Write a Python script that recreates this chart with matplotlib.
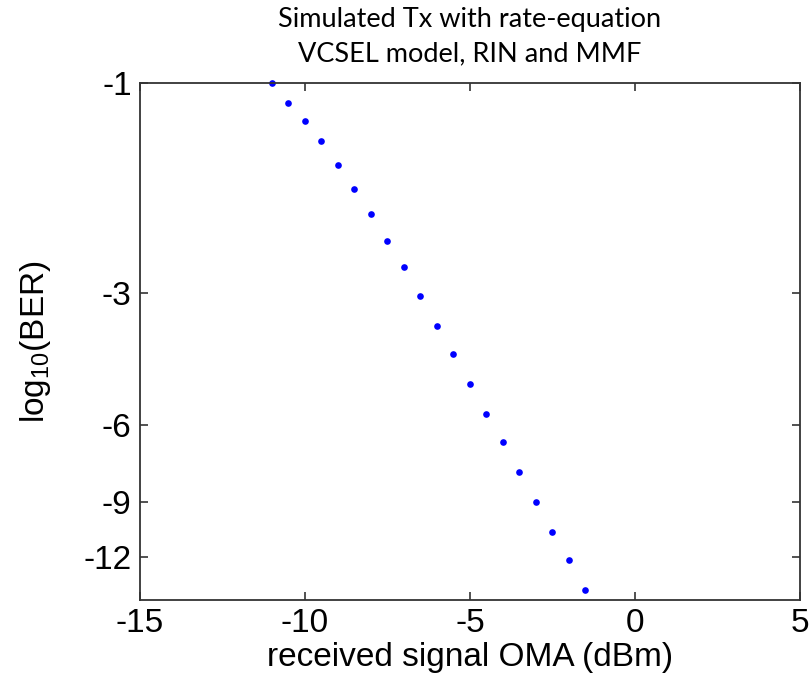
import numpy as np
import matplotlib
matplotlib.use("Agg")
import matplotlib.pyplot as plt

# Data
oma_dbm = [-11.0, -10.5, -10.0, -9.5, -9.0, -8.5, -8.0, -7.5, -7.0, -6.5,
           -6.0, -5.5, -5.0, -4.5, -4.0, -3.5, -3.0, -2.5, -2.0, -1.5]
log_ber = [-1.00, -1.11, -1.22, -1.36, -1.54, -1.74, -1.99, -2.29, -2.63, -3.06,
           -3.57, -4.13, -4.84, -5.66, -6.56, -7.68, -8.97, -10.48, -12.16, -14.21]
x_ticks = [-15, -10, -5, 0, 5]
y_ticks = [-1, -3, -6, -9, -12]
y_ticklabels = ["-1", "-3", "-6", "-9", "-12"]

fig = plt.figure(figsize=(8.12, 6.89), dpi=100)
ax = fig.add_axes([140/812, 1 - 600/689, (800 - 140)/812, (600 - 82.7)/689])


def fwd(y):
    y = np.asarray(y, dtype=float)
    with np.errstate(invalid="ignore", divide="ignore"):
        return -np.log10(np.clip(-y, 1e-12, None))


def inv(t):
    t = np.asarray(t, dtype=float)
    return -np.power(10.0, -t)


ax.set_yscale("function", functions=(fwd, inv))
ax.plot(oma_dbm, log_ber, linestyle="none", marker="o", markersize=4.8,
        color="#0000ff", markeredgewidth=0, clip_on=False)

ax.set_xlim(-15, 5)
ax.set_ylim(-15, -1)
ax.set_xticks(x_ticks)
ax.set_xticklabels([str(v) for v in x_ticks])
ax.set_yticks(y_ticks)
ax.set_yticklabels(y_ticklabels)
ax.minorticks_off()

fam = ["Liberation Sans", "DejaVu Sans"]
for lab in ax.get_xticklabels() + ax.get_yticklabels():
    lab.set_fontfamily(fam)
    lab.set_fontsize(24)

ax.tick_params(direction="in", length=6, width=1.2, color="#333333",
               top=True, right=True, pad=6)
for sp in ax.spines.values():
    sp.set_color("#333333")
    sp.set_linewidth(1.3)

plt.rcParams["mathtext.fontset"] = "custom"
plt.rcParams["mathtext.rm"] = "Liberation Sans"
plt.rcParams["mathtext.it"] = "Liberation Sans"

ax.set_xlabel("received signal OMA (dBm)", fontsize=24, family=fam, labelpad=2)
ax.set_ylabel(r"log$_{\mathregular{10}}$(BER)", fontsize=24, family=fam, labelpad=22)

fig.text(470/812, 1 - 37/689, "Simulated Tx with rate-equation\nVCSEL model, RIN and MMF",
         ha="center", va="center", fontsize=19.5, family=["Lato", "DejaVu Sans"],
         linespacing=1.45)

fig.savefig("out.png", dpi=100)
